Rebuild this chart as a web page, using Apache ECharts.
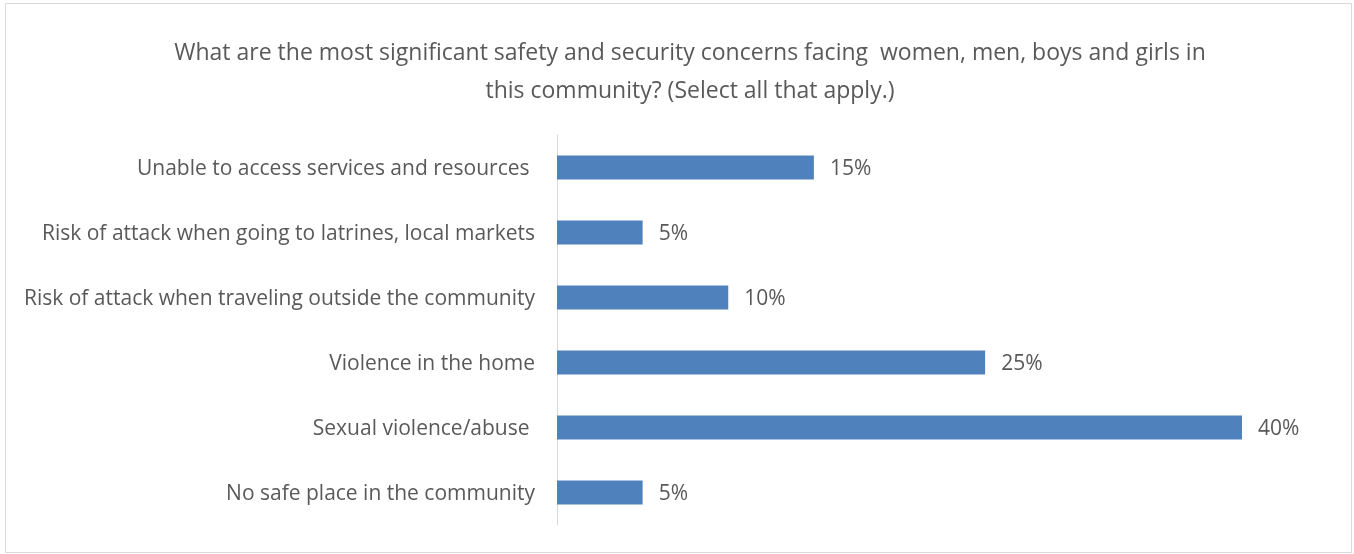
<!DOCTYPE html>
<html>
<head>
<meta charset="utf-8">
<script src="https://cdn.jsdelivr.net/npm/echarts@6/dist/echarts.min.js"></script>
<style>
  html, body { margin: 0; padding: 0; background: #fff; }
  #chart { width: 1354px; height: 554px; }
</style>
</head>
<body>
<div id="chart"></div>
<script>
// Survey responses, listed top to bottom as shown
const categories = [
  'Unable to access services and resources ',
  'Risk of attack when going to latrines, local markets',
  'Risk of attack when traveling outside the community',
  'Violence in the home',
  'Sexual violence/abuse ',
  'No safe place in the community'
];
const shares = [15, 5, 10, 25, 40, 5];
const titleText = 'What are the most significant safety and security concerns facing  women, men, boys and girls in\nthis community? (Select all that apply.)';

const FONT = '"Open Sans", Lato, sans-serif';
const TEXT = '#595959';

const chart = echarts.init(document.getElementById('chart'));
chart.setOption({
  animation: false,
  title: {
    text: titleText,
    left: 685,
    textAlign: 'center',
    top: 29,
    textStyle: { fontFamily: FONT, fontSize: 23, fontWeight: 'normal', color: TEXT, lineHeight: 38 }
  },
  graphic: [{
    type: 'rect',
    shape: { x: 5.5, y: 3.5, width: 1346, height: 549 },
    style: { fill: 'none', stroke: '#d9d9d9', lineWidth: 1 },
    silent: true
  }],
  grid: { left: 557, right: 112, top: 135, bottom: 29, containLabel: false },
  xAxis: {
    type: 'value',
    min: 0,
    max: 40,
    show: false
  },
  yAxis: {
    type: 'category',
    inverse: true,
    data: categories,
    axisLine: { show: true, lineStyle: { color: '#d9d9d9', width: 1 } },
    axisTick: { show: false },
    axisLabel: {
      margin: 22,
      formatter: v => '{c|' + v + '}',
      rich: { c: { fontFamily: FONT, fontSize: 21, color: TEXT, padding: [4, 0, 0, 0] } },
      fontFamily: FONT,
      fontSize: 21,
      color: TEXT
    }
  },
  series: [{
    type: 'bar',
    data: shares,
    barWidth: 24,
    itemStyle: { color: '#4F81BD' },
    label: {
      show: true,
      position: 'right',
      distance: 16,
      offset: [0, 2],
      formatter: p => p.value + '%',
      fontFamily: FONT,
      fontSize: 21,
      color: TEXT
    }
  }]
});
</script>
</body>
</html>
